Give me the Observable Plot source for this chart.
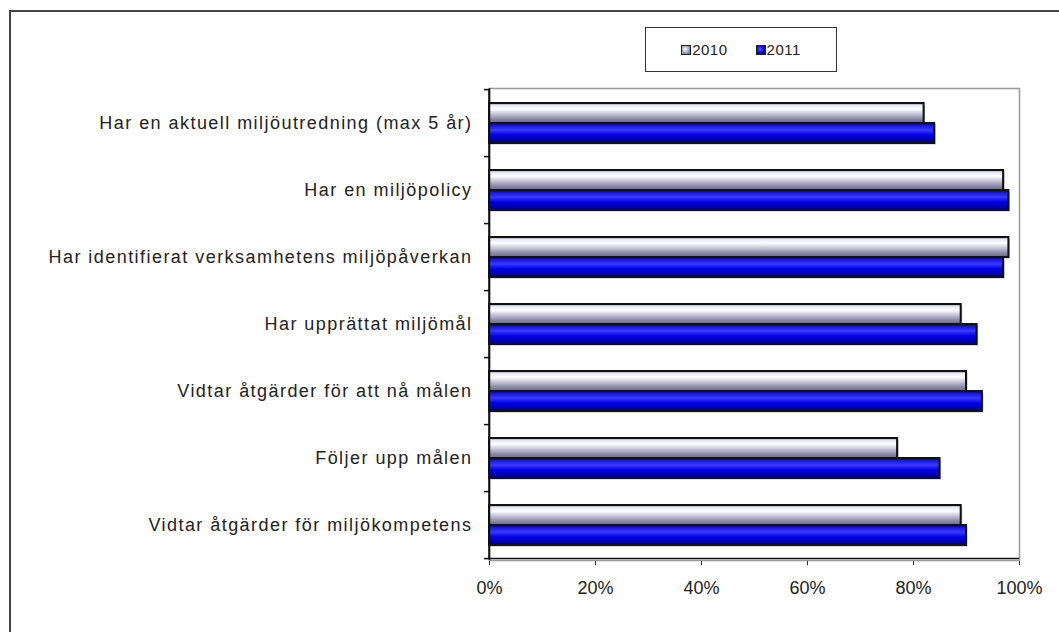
<!DOCTYPE html>
<html>
<head>
<meta charset="utf-8">
<script src="https://cdn.jsdelivr.net/npm/d3@7"></script>
<script src="https://cdn.jsdelivr.net/npm/@observablehq/plot@0.6"></script>
<style>
  html, body { margin: 0; padding: 0; background: #fff; overflow: hidden; width: 1059px; height: 632px; }
  #wrap { position: relative; width: 1059px; height: 632px; font-family: "Liberation Sans", Arial, sans-serif; }
  #frame { position: absolute; left: 9px; top: 10px; width: 1200px; height: 800px; border: 2px solid #444; box-sizing: border-box; }
  #chart { position: absolute; left: 0; top: 0; }
  #legend { position: absolute; left: 645px; top: 27px; width: 192px; height: 45px; border: 1px solid #333; box-sizing: border-box; background: #fff;
            display: flex; align-items: center; justify-content: center; gap: 28px; font-size: 15px; color: #222; letter-spacing: 0.5px; }
  .item { display: flex; align-items: center; gap: 1px; }
  .sw { width: 8px; height: 8px; border: 1px solid #222; }
</style>
</head>
<body>
<div id="wrap">
  <div id="frame"></div>
  <div id="chart"></div>
  <div id="legend"></div>
</div>
<script>
const categories = [
  "Har en aktuell miljöutredning (max 5 år)",
  "Har en miljöpolicy",
  "Har identifierat verksamhetens miljöpåverkan",
  "Har upprättat miljömål",
  "Vidtar åtgärder för att nå målen",
  "Följer upp målen",
  "Vidtar åtgärder för miljökompetens"
];
const series = ["2010", "2011"];
const values2010 = [0.82, 0.97, 0.98, 0.89, 0.90, 0.77, 0.89];
const values2011 = [0.84, 0.98, 0.97, 0.92, 0.93, 0.85, 0.90];
const xTicks = [0, 0.2, 0.4, 0.6, 0.8, 1.0];

const data2010 = categories.map((c, i) => ({category: c, value: values2010[i]}));
const data2011 = categories.map((c, i) => ({category: c, value: values2011[i]}));

const plot = Plot.plot({
  width: 1059,
  height: 632,
  marginLeft: 489,
  marginRight: 40,
  marginTop: 88,
  marginBottom: 72,
  style: {fontFamily: "'Liberation Sans', Arial, sans-serif", fontSize: "18px", color: "#222", background: "transparent", overflow: "visible"},
  x: {domain: [0, 1], ticks: xTicks, tickFormat: d3.format(".0%"), tickSize: 5, tickPadding: 16, label: null},
  y: {domain: categories, paddingInner: 0.4, paddingOuter: 0.2, tickSize: 0, tickPadding: 17, label: null},
  marks: [
    Plot.frame({stroke: "#999", strokeWidth: 1.5}),
    // shadows
    Plot.barX(data2010, {y: "category", x: "value", insetBottom: 20, fill: "#bbb", dx: 1.5, dy: 1.5}),
    Plot.barX(data2011, {y: "category", x: "value", insetTop: 20, fill: "#bbb", dx: 1.5, dy: 1.5}),
    Plot.barX(data2010, {y: "category", x: "value", insetBottom: 20, fill: "url(#g2010)", stroke: "#111", strokeWidth: 2}),
    Plot.barX(data2011, {y: "category", x: "value", insetTop: 20, fill: "url(#g2011)", stroke: "#111", strokeWidth: 2}),
    Plot.ruleX([0], {stroke: "#111", strokeWidth: 1.5})
  ]
});

// gradients
const svg = d3.select(plot);
const defs = svg.insert("defs", ":first-child");
const g1 = defs.append("linearGradient").attr("id", "g2010").attr("x1", 0).attr("y1", 0).attr("x2", 0).attr("y2", 1);
[[0, "#8e8eac"], [0.12, "#e6e6f4"], [0.3, "#ffffff"], [0.55, "#c4c4d8"], [0.8, "#8a8aa6"], [1, "#6a6a88"]]
  .forEach(([o, c]) => g1.append("stop").attr("offset", o).attr("stop-color", c));
const g2 = defs.append("linearGradient").attr("id", "g2011").attr("x1", 0).attr("y1", 0).attr("x2", 0).attr("y2", 1);
[[0, "#000090"], [0.15, "#1a1ae0"], [0.35, "#3a3aff"], [0.6, "#0000e6"], [0.85, "#0000a8"], [1, "#000070"]]
  .forEach(([o, c]) => g2.append("stop").attr("offset", o).attr("stop-color", c));

// wider letter spacing on category labels, as in the reference
svg.selectAll('g[aria-label="y-axis tick label"] text, g[aria-label="y-axis"] text')
  .attr("letter-spacing", "1.45px");

// axis lines and category boundary ticks using the plot scales
const xs = plot.scale("x"), ys = plot.scale("y");
const x0 = xs.apply(0), x1 = xs.apply(1);
const step = ys.step;
const bounds = categories.map(c => ys.apply(c) - step * 0.2);
bounds.push(bounds[bounds.length - 1] + step);
const yBottom = bounds[bounds.length - 1];
const g = svg.append("g").attr("stroke", "#111").attr("stroke-width", 1.5);
g.append("line").attr("x1", x0).attr("x2", x1).attr("y1", yBottom).attr("y2", yBottom);
g.append("line").attr("x1", x0).attr("x2", x0).attr("y1", bounds[0]).attr("y2", yBottom);
bounds.forEach(b => g.append("line").attr("x1", x0 - 5).attr("x2", x0).attr("y1", b).attr("y2", b));

document.getElementById("chart").appendChild(plot);

// legend
const legend = document.getElementById("legend");
series.forEach((s, i) => {
  const it = document.createElement("div");
  it.className = "item";
  const sw = document.createElement("div");
  sw.className = "sw";
  sw.style.background = i === 0
    ? "radial-gradient(circle at 40% 40%, #ffffff, #9a9ab6 60%, #6a6a88)"
    : "radial-gradient(circle at 40% 40%, #5a5aff, #0000d0 60%, #000070)";
  const t = document.createElement("span");
  t.textContent = s;
  it.appendChild(sw); it.appendChild(t);
  legend.appendChild(it);
});
</script>
</body>
</html>
